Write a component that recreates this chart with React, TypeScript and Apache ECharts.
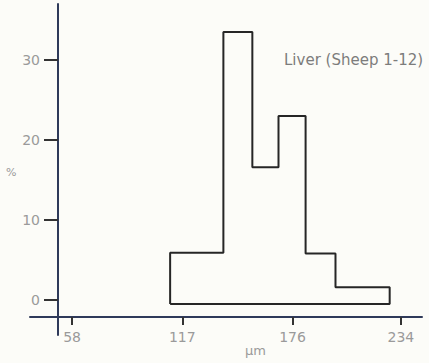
import React, { useEffect, useRef } from "react";
import * as echarts from "echarts";

// Bin edges (µm) and the percentage in each bin
const binEdges: number[] = [110.5, 139, 154.5, 168.5, 183, 199, 228];
const binPercent: number[] = [5.9, 33.5, 16.6, 23, 5.8, 1.6];
const baseline = -0.5;

const xTicks: number[] = [58, 117, 176, 234];
const yTicks: number[] = [0, 10, 20, 30];

const title = "Liver (Sheep 1-12)";
const xName = "µm";
const yName = "%";

// Closed step outline of the histogram
function outline(): [number, number][] {
  const pts: [number, number][] = [[binEdges[0], baseline]];
  binPercent.forEach((v, i) => {
    pts.push([binEdges[i], v]);
    pts.push([binEdges[i + 1], v]);
  });
  pts.push([binEdges[binEdges.length - 1], baseline]);
  pts.push([binEdges[0], baseline]);
  return pts;
}

export default function App() {
  const ref = useRef<HTMLDivElement>(null);

  useEffect(() => {
    if (!ref.current) return;
    const chart = echarts.init(ref.current, null, { renderer: "svg" });
    const axisColor = "#2f3a5a";
    const labelColor = "#9a9a9a";
    const font = "DejaVu Sans";

    chart.setOption({
      animation: false,
      backgroundColor: "#fcfcf8",
      title: {
        text: title,
        left: 279,
        top: 47,
        textStyle: { color: "#7c7c7c", fontSize: 15, fontWeight: "normal", fontFamily: font },
      },
      grid: { left: 30, right: 7, top: 4, bottom: 28 },
      xAxis: {
        type: "value",
        min: 35.5,
        max: 245.3,
        offset: -18,
        splitLine: { show: false },
        axisLine: { show: true, onZero: false, lineStyle: { color: axisColor, width: 2 } },
        axisTick: { show: true, length: 8, lineStyle: { color: "#333", width: 2 }, customValues: xTicks },
        axisLabel: {
          color: labelColor,
          fontSize: 14,
          fontFamily: font,
          margin: 13,
          customValues: xTicks,
          formatter: (v: number) => String(v),
        },
      },
      yAxis: {
        type: "value",
        min: -4.375,
        max: 37,
        offset: -28,
        splitLine: { show: false },
        axisLine: { show: true, onZero: false, lineStyle: { color: axisColor, width: 2 } },
        axisTick: { show: true, length: 14, lineStyle: { color: "#333", width: 2 }, customValues: yTicks },
        axisLabel: {
          color: labelColor,
          fontSize: 14,
          fontFamily: font,
          margin: 18,
          padding: [0, 0, 4, 0],
          customValues: yTicks,
          formatter: (v: number) => String(v),
        },
      },
      graphic: [
        {
          type: "text",
          left: 245,
          top: 344,
          style: { text: xName, fill: labelColor, fontSize: 13, fontFamily: font },
        },
        {
          type: "text",
          left: 6,
          top: 167,
          style: { text: yName, fill: labelColor, fontSize: 11, fontFamily: font },
        },
      ],
      series: [
        {
          type: "line",
          data: outline(),
          showSymbol: false,
          symbol: "none",
          lineStyle: { color: "#262626", width: 2 },
          z: 3,
        },
      ],
    });

    return () => chart.dispose();
  }, []);

  return (
    <div
      ref={ref}
      style={{ position: "absolute", left: 0, top: 0, width: 429, height: 363 }}
    />
  );
}
